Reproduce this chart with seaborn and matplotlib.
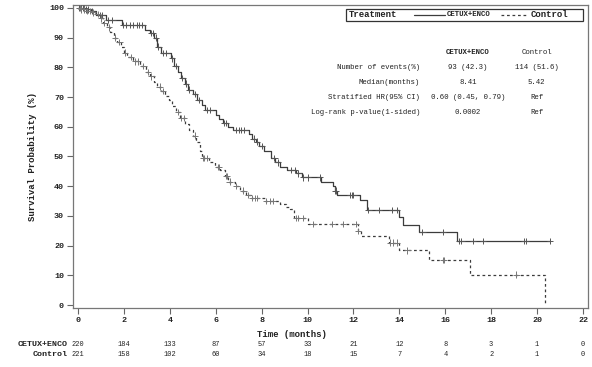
import numpy as np
import pandas as pd
import matplotlib
matplotlib.use("Agg")
import matplotlib.pyplot as plt
from matplotlib.patches import Rectangle
from matplotlib.lines import Line2D
import seaborn as sns

# KM step data (time in months, survival in %)
cetux_t = [0, 0.3, 0.55, 0.8, 1.2, 1.9, 2.9, 3.15, 3.3, 3.45, 3.6, 4.05, 4.2, 4.35, 4.5, 4.65,
           4.8, 5.0, 5.2, 5.4, 5.55, 6.0, 6.15, 6.3, 6.55, 6.75, 7.45, 7.6, 7.75, 7.9, 8.1, 8.41,
           8.6, 8.8, 9.1, 9.5, 9.75, 10.6, 11.1, 11.2, 11.3, 12.3, 12.6, 14.0, 14.15, 14.85, 16.5, 20.57]
cetux_s = [100, 99.5, 99, 97.6, 96, 94.3, 92.6, 91.5, 90, 87, 84.8, 83, 80.5, 78.5, 76.5, 74.5,
           72.5, 71, 69, 67.5, 65.7, 64, 62.5, 61.2, 60, 59, 57.5, 56, 55, 53.5, 52, 49.5,
           48, 46.5, 45.5, 44.3, 43, 41.5, 40, 38.5, 37, 35.4, 32, 29.7, 27, 24.6, 21.5, 21.5]

ctrl_t = [0, 0.15, 0.35, 0.55, 0.75, 0.95, 1.1, 1.25, 1.4, 1.55, 1.7, 1.85, 2.0, 2.15, 2.4, 2.7,
          2.95, 3.15, 3.3, 3.45, 3.6, 3.8, 3.95, 4.1, 4.25, 4.45, 4.65, 4.85, 5.0, 5.15, 5.3, 5.42,
          5.7, 5.95, 6.2, 6.4, 6.55, 6.85, 7.05, 7.3, 7.55, 8.15, 8.8, 9.05, 9.25, 9.4,
          10.0, 12.2, 12.35, 13.55, 14.0, 15.3, 17.1, 20.35]
ctrl_s = [100, 99.5, 99, 98.5, 98, 96.5, 95, 93.5, 92, 90, 88.5, 87, 85, 83.5, 82, 80.5,
          78.5, 77, 75, 73.5, 72, 70.5, 69, 67, 65, 63, 61, 59, 57, 55, 52, 49.5,
          48, 46.5, 45.5, 43.5, 41.5, 40, 38.5, 37, 36, 35, 34, 33, 32.3, 29.3,
          27.3, 25, 23.2, 21, 18.4, 15.2, 10.2, 0]

# censored observations (times)
cetux_cens = [0.05, 0.12, 0.2, 0.28, 0.35, 0.45, 0.6, 0.95, 1.05, 1.3, 1.5, 1.95, 2.1, 2.25, 2.4,
              2.55, 2.65, 2.8, 3.2, 3.25, 3.4, 3.5, 3.7, 3.85, 4.1, 4.25, 4.55, 4.7, 4.85, 5.1, 5.25,
              5.6, 5.75, 6.35, 6.45, 6.9, 7.0, 7.1, 7.25, 7.65, 7.8, 8.0, 8.55, 8.7, 9.3, 9.45, 9.6,
              9.8, 10.0, 10.55, 11.2, 11.25, 11.85, 11.95, 12.0, 12.65, 13.1, 13.7, 13.9, 15.0, 15.9,
              16.6, 16.7, 17.2, 17.65, 19.45, 19.5, 20.57]
ctrl_cens = [0.08, 0.15, 0.25, 0.4, 0.5, 0.65, 0.85, 1.0, 1.15, 1.35, 1.6, 1.8, 2.05, 2.3, 2.5,
             2.6, 2.85, 3.05, 3.2, 3.55, 3.7, 4.35, 4.5, 4.6, 5.1, 5.45, 5.5, 5.6, 6.1, 6.15, 6.45,
             6.5, 6.6, 6.9, 7.2, 7.4, 7.6, 7.7, 7.8, 8.2, 8.35, 8.5, 9.5, 9.6, 9.8, 10.25, 11.07,
             11.55, 12.1, 12.2, 13.6, 13.73, 13.9, 14.35, 15.9, 15.95, 19.1]

arms = ["CETUX+ENCO", "Control"]
risk_times = [0, 2, 4, 6, 8, 10, 12, 14, 16, 18, 20, 22]
risk_cetux = [220, 184, 133, 87, 57, 33, 21, 12, 8, 3, 1, 0]
risk_ctrl = [221, 158, 102, 60, 34, 18, 15, 7, 4, 2, 1, 0]

stat_rows = ["Number of events(%)", "Median(months)", "Stratified HR(95% CI)", "Log-rank p-value(1-sided)"]
stat_cetux = ["93 (42.3)", "8.41", "0.60 (0.45, 0.79)", "0.0002"]
stat_ctrl = ["114 (51.6)", "5.42", "Ref", "Ref"]


def surv_at(times, surv, t):
    idx = np.searchsorted(times, t, side="right") - 1
    return np.array(surv)[idx]


curves = pd.concat([
    pd.DataFrame({"time": cetux_t, "surv": cetux_s, "arm": arms[0]}),
    pd.DataFrame({"time": ctrl_t, "surv": ctrl_s, "arm": arms[1]}),
])
cens = pd.concat([
    pd.DataFrame({"time": cetux_cens, "surv": surv_at(cetux_t, cetux_s, cetux_cens), "arm": arms[0]}),
    pd.DataFrame({"time": ctrl_cens, "surv": surv_at(ctrl_t, ctrl_s, ctrl_cens), "arm": arms[1]}),
])

sns.set_style("white")
plt.rcParams["font.family"] = ["Liberation Mono", "DejaVu Sans Mono"]

W, H = 592, 367
fig, ax = plt.subplots(figsize=(W / 100, H / 100), dpi=100)
fig.subplots_adjust(left=73 / W, right=588 / W, top=1 - 5 / H, bottom=1 - 308 / H)

line_col = "#3c3c3c"
pal = {arms[0]: line_col, arms[1]: line_col}

sns.lineplot(data=curves, x="time", y="surv", hue="arm", style="arm", palette=pal,
             dashes={arms[0]: "", arms[1]: (2.2, 2.2)}, drawstyle="steps-post",
             estimator=None, sort=False, linewidth=0.9, legend=False, ax=ax)
sns.scatterplot(data=cens, x="time", y="surv", hue="arm", palette={arms[0]: "#555555", arms[1]: "#777777"},
                marker="+", s=22, linewidth=0.7, legend=False, ax=ax, zorder=3)

ax.set_xlim(-0.22, 22.22)
ax.set_ylim(-1, 101)
ax.set_xticks(risk_times)
ax.set_yticks(range(0, 101, 10))
ax.tick_params(axis="both", direction="out", length=4, width=0.8, color="#666666",
               labelsize=6, labelcolor="#222222", pad=2.5, bottom=True, left=True)
for lab in ax.get_xticklabels() + ax.get_yticklabels():
    lab.set_fontweight("bold")
for sp in ax.spines.values():
    sp.set_color("#777777")
    sp.set_linewidth(0.9)

ax.set_xlabel("Time (months)", fontsize=6.5, fontweight="bold", color="#222222")
ax.set_ylabel("Survival Probability (%)", fontsize=6.5, fontweight="bold", color="#222222")
ax.xaxis.set_label_coords(0.425, -0.072)
ax.yaxis.set_label_coords(-0.07, 0.5)

# legend box
ax.add_patch(Rectangle((0.530, 0.947), 0.460, 0.040, transform=ax.transAxes, fill=False,
                       edgecolor="#333333", linewidth=0.9, zorder=4))
ax.text(0.536, 0.967, "Treatment", transform=ax.transAxes, fontsize=6.5, fontweight="bold",
        va="center", ha="left", color="#222222")
ax.add_line(Line2D([0.662, 0.722], [0.967, 0.967], transform=ax.transAxes, color=line_col, lw=0.9))
ax.text(0.726, 0.967, arms[0], transform=ax.transAxes, fontsize=5.3, fontweight="bold",
        va="center", ha="left", color="#222222")
ax.add_line(Line2D([0.831, 0.882], [0.967, 0.967], transform=ax.transAxes, color=line_col, lw=0.9,
                   dashes=(2.2, 2.2)))
ax.text(0.888, 0.967, arms[1], transform=ax.transAxes, fontsize=6.5, fontweight="bold",
        va="center", ha="left", color="#222222")

# statistics table
col_x = [0.767, 0.900]
ax.text(col_x[0], 0.842, arms[0], transform=ax.transAxes, fontsize=5.3, fontweight="bold",
        ha="center", va="center", color="#222222")
ax.text(col_x[1], 0.842, arms[1], transform=ax.transAxes, fontsize=5.3,
        ha="center", va="center", color="#222222")
for i, (lab, a, b) in enumerate(zip(stat_rows, stat_cetux, stat_ctrl)):
    yy = 0.795 - i * 0.0495
    ax.text(0.674, yy, lab, transform=ax.transAxes, fontsize=5.3, ha="right", va="center", color="#222222")
    ax.text(col_x[0], yy, a, transform=ax.transAxes, fontsize=5.3, ha="center", va="center", color="#222222")
    ax.text(col_x[1], yy, b, transform=ax.transAxes, fontsize=5.3, ha="center", va="center", color="#222222")

# number at risk table
trans = ax.get_xaxis_transform()
for row_y, name, vals in [(-0.122, arms[0], risk_cetux), (-0.152, arms[1], risk_ctrl)]:
    ax.text(-0.45, row_y, name, transform=trans, fontsize=6, fontweight="bold", ha="right",
            va="center", color="#222222", clip_on=False)
    for t, v in zip(risk_times, vals):
        ax.text(t, row_y, str(v), transform=trans, fontsize=5, ha="center", va="center",
                color="#222222", clip_on=False)

fig.savefig("out.png", dpi=100)
